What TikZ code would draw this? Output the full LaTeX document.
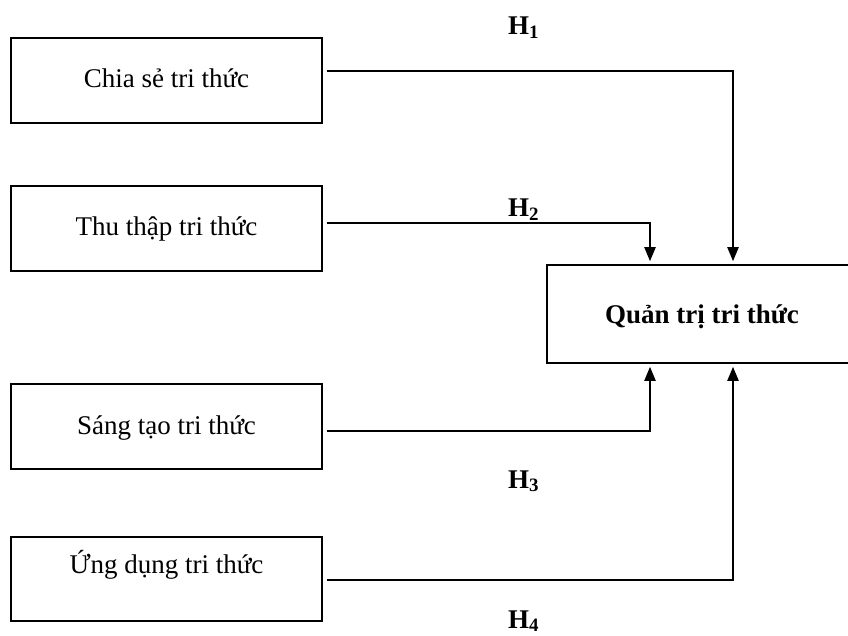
\documentclass[tikz,border=0pt]{standalone}
\usepackage{fontspec}
\setmainfont{Liberation Serif}
\usetikzlibrary{arrows.meta}
\newcommand\bigfont{\fontsize{27}{32}\selectfont}
\begin{document}
\begin{tikzpicture}[x=1pt, y=-1pt, >={Triangle[length=14pt,width=11pt]},
  box/.style={draw, line width=1.2pt, minimum width=311pt, minimum height=85pt,
    inner sep=0pt, font=\bigfont, text height=21pt, text depth=6pt},
  hyp/.style={font=\bigfont\bfseries, anchor=base west, inner sep=0pt},
  link/.style={->, line width=2pt, shorten >=3pt}]
\clip (0,0) rectangle (848,636);

\node[box] (a) at (166.5,80.5) {Chia sẻ tri thức};
\node[box] (b) at (166.5,228.5) {Thu thập tri thức};
\node[box] (c) at (166.5,426.5) {Sáng tạo tri thức};
\node[box, minimum height=84pt, text depth=33pt] (d) at (166.5,579) {Ứng dụng tri thức};
\node[box, font=\bigfont\bfseries, line width=1.5pt, minimum width=310pt,
  minimum height=98pt, text depth=3pt] (e) at (702,314) {Quản trị tri thức};

\node[hyp] (h1) at (508,35) {H\textsubscript{1}};
\node[hyp] (h2) at (508,217) {H\textsubscript{2}};
\node[hyp] (h3) at (508,488) {H\textsubscript{3}};
\node[hyp] (h4) at (508,628) {H\textsubscript{4}};

\draw[link] ([shift={(4pt,9.5pt)}]a.east) -| ([xshift=31pt]e.north);
\draw[link] ([shift={(4pt,5.5pt)}]b.east) -| ([xshift=-52pt]e.north);
\draw[link] ([shift={(4pt,-4.5pt)}]c.east) -| ([xshift=-52pt]e.south);
\draw[link] ([shift={(4pt,-1pt)}]d.east) -| ([xshift=31pt]e.south);
\end{tikzpicture}
\end{document}
